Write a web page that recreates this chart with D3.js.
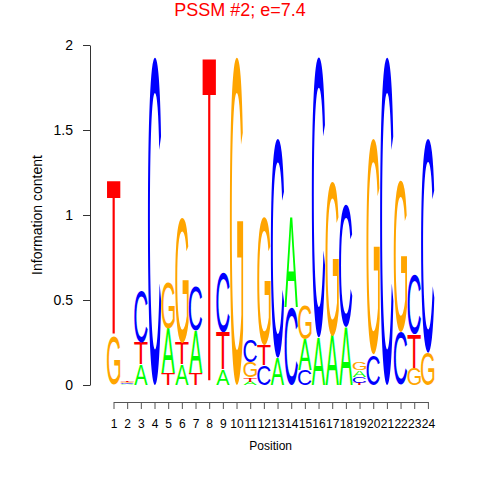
<!DOCTYPE html>
<html><head><meta charset="utf-8">
<script src="https://cdn.jsdelivr.net/npm/d3@7"></script>
<style>body{margin:0;background:#fff}svg{display:block}</style>
</head><body>
<script>
const positions = d3.range(1, 25);
const heightA = [0,0.005,0.12,0,0.26,0.12,0.25,0,0.09,0,0.02,0,0.16,0.53,0.18,0.28,0.29,0.34,0.04,0,0,0,0,0];
const heightC = [0,0.007,0.30,1.93,0,0,0.26,0,0.35,0,0.13,0.115,1.29,0.46,0.09,1.65,0,0.72,0.035,0.18,1.93,0.31,0.35,1.26];
const heightG = [0.29,0.008,0,0,0.27,0.74,0,0,0,1.93,0.09,0.75,0,0,0.2,0,0.91,0,0.045,1.27,0,0.89,0.1,0.19];
const heightT = [0.91,0.01,0.13,0,0.07,0.13,0.07,1.92,0.22,0,0.025,0.12,0,0,0,0,0,0,0.012,0,0,0,0.2,0];
const letters = ["A","C","G","T"];
const letterColors = {A:"#00FF00", C:"#0000FF", G:"#FFA500", T:"#FF0000"};
const yTicks = [0, 0.5, 1, 1.5, 2];
const titleText = "PSSM #2; e=7.4";

const W = 480, H = 480;
const svg = d3.select("body").append("svg").attr("width", W).attr("height", H);
const font = "'Liberation Sans', Arial, Helvetica, sans-serif";

const x = d3.scaleBand().domain(positions).range([106.67, 434.74]).padding(0.02);
const xp = d3.scalePoint().domain(positions).range([113.5, 427.9]);
const y = d3.scaleLinear().domain([0, 2]).range([385, 45]);

// glyph metrics
const canvas = document.createElement("canvas");
const ctx = canvas.getContext("2d");
const letterFont = "100px 'Liberation Sans', Arial, sans-serif";
ctx.font = letterFont;
const metrics = {};
letters.forEach(l => {
  const m = ctx.measureText(l);
  metrics[l] = {left: m.actualBoundingBoxLeft, right: m.actualBoundingBoxRight,
                asc: m.actualBoundingBoxAscent, desc: m.actualBoundingBoxDescent};
});

const heights = {A: heightA, C: heightC, G: heightG, T: heightT};
const rects = [];
positions.forEach((p, i) => {
  const stack = letters.map(l => ({l, h: heights[l][i]})).filter(d => d.h > 0)
    .sort((a, b) => a.h - b.h);
  let base = 0;
  stack.forEach(d => {
    rects.push({p, l: d.l, y0: base, y1: base + d.h});
    base += d.h;
  });
});

const g = svg.append("g");
g.selectAll("text.letter").data(rects).join("text")
  .attr("class", "letter")
  .style("font", letterFont)
  .attr("fill", d => letterColors[d.l])
  .attr("transform", d => {
    const m = metrics[d.l];
    const gw = m.left + m.right, gh = m.asc + m.desc;
    const x0 = x(d.p), w = x.bandwidth();
    const top = y(d.y1), h = y(d.y0) - y(d.y1);
    return `translate(${x0},${top}) scale(${w / gw},${h / gh}) translate(${m.left},${m.asc})`;
  })
  .text(d => d.l);

// y axis
const yAxis = svg.append("g").attr("transform", "translate(90,0)")
  .call(d3.axisLeft(y).tickValues(yTicks).tickSize(7).tickSizeOuter(0).tickPadding(10)
    .tickFormat(d => String(d)));
yAxis.selectAll("text").style("font", "14px " + font).attr("fill", "#000");
yAxis.selectAll("line,path").attr("stroke", "#333");

// x axis
const xAxis = svg.append("g").attr("transform", "translate(0,402)")
  .call(d3.axisBottom(xp).tickSize(7).tickSizeOuter(0).tickPadding(10));
xAxis.selectAll("text").style("font", "12px " + font).attr("fill", "#000");
xAxis.selectAll("line,path").attr("stroke", "#555");

svg.append("text").attr("x", 270.7).attr("y", 450).attr("text-anchor", "middle")
  .style("font", "12px " + font).text("Position");
svg.append("text").attr("transform", "translate(42,215) rotate(-90)").attr("text-anchor", "middle")
  .style("font", "14px " + font).text("Information content");
svg.append("text").attr("x", 240).attr("y", 16).attr("text-anchor", "middle")
  .style("font", "18px " + font).attr("fill", "#FF0000").text(titleText);
</script>
</body></html>
